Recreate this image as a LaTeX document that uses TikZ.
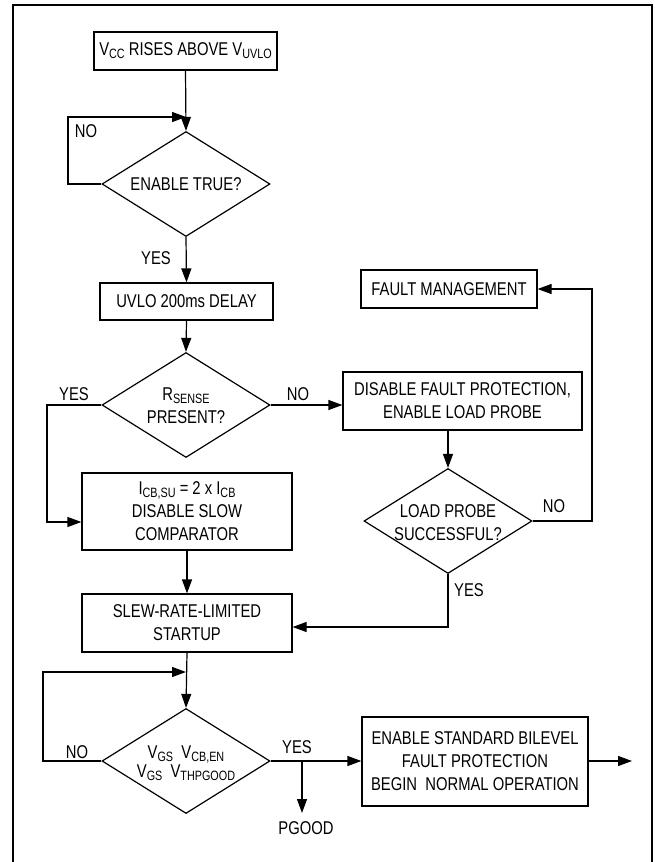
\documentclass[tikz,border=0pt]{standalone}
\usepackage{fontspec}
\setmainfont{Liberation Sans}[FakeStretch=0.8]
\usetikzlibrary{arrows.meta,shapes.geometric}
\newcommand{\subx}[1]{\raisebox{-0.16em}{\fontsize{13.5}{13.5}\selectfont #1}}
\begin{document}
\begin{tikzpicture}[x=1pt,y=-1pt,
  every node/.style={font=\fontsize{18.5}{23}\selectfont},
  box/.style={draw,line width=1.2pt,inner sep=0pt,align=center},
  dia/.style={draw,diamond,line width=1.2pt,inner sep=0pt,minimum width=168pt,minimum height=105pt},
  txt/.style={inner sep=0pt,align=center},
  lbl/.style={inner sep=0pt},
  arr/.style={line width=1.2pt,-{Triangle[length=14pt,width=10pt]}},
  ln/.style={line width=1.2pt}]
\useasboundingbox (0,0) rectangle (654,862);
\draw[line width=2pt] (12.5,862) -- (12.5,4.5) -- (651.5,4.5) -- (651.5,862);

% nodes
\node[box,minimum width=183pt,minimum height=38pt] (b1) at (185.5,51) {V\subx{CC} RISES ABOVE V\subx{UVLO}};
\node[dia] (d1) at (186,184) {};
\node[txt] (t1) at (d1) {ENABLE TRUE?};
\node[box,minimum width=173pt,minimum height=37pt] (b2) at (186.5,301.5) {UVLO 200ms DELAY};
\node[dia] (d2) at (186,405) {};
\node[txt] (t2) at (186,406) {R\subx{SENSE}\\PRESENT?};
\node[box,minimum width=210pt,minimum height=77pt] (b3) at (187,511.5) {I\subx{CB,SU} = 2 x I\subx{CB}\\DISABLE SLOW\\COMPARATOR};
\node[box,minimum width=176pt,minimum height=38pt] (fm) at (449,289) {FAULT MANAGEMENT};
\node[box,minimum width=239pt,minimum height=58pt] (b4) at (462.5,401) {DISABLE FAULT PROTECTION,\\ENABLE LOAD PROBE};
\node[dia] (d4) at (448,521) {};
\node[txt] (t4) at (448,523) {LOAD PROBE\\SUCCESSFUL?};
\node[box,minimum width=210pt,minimum height=58pt] (b5) at (187,623) {SLEW-RATE-LIMITED\\STARTUP};
\node[dia] (d3) at (186,761) {};
\node[txt,font=\fontsize{18.5}{19.5}\selectfont] (t3) at (186,763) {V\subx{GS}\ \ V\subx{CB,EN}\\V\subx{GS}\ \ V\subx{THPGOOD}};
\node[box,minimum width=226pt,minimum height=89pt] (b6) at (475,761.5) {ENABLE STANDARD BILEVEL\\FAULT PROTECTION\\BEGIN\ \ NORMAL OPERATION};

% coordinates
\coordinate (j1) at (186,117);
\coordinate (j3) at (186,672);
\coordinate (pg) at (302,813);
\coordinate (out) at (632,761);

% labels
\node[lbl] (l1) at (86,131) {NO};
\node[lbl] (l2) at (156,258) {YES};
\node[lbl] (l3) at (74,394) {YES};
\node[lbl] (l4) at (298,394) {NO};
\node[lbl] (l5) at (554,506) {NO};
\node[lbl] (l6) at (469,590) {YES};
\node[lbl] (l7) at (77,752) {NO};
\node[lbl] (l8) at (297,747) {YES};
\node[lbl] (l9) at (306,828) {PGOOD};

% connectors
\draw[arr] (b1.south) -- (d1.north);
\draw[arr] (d1.west) -- (68,184) -- (68,117) -- (j1);
\draw[arr] (d1.south) -- (b2.north);
\draw[arr] (b2.south) -- (d2.north);
\draw[arr] (d2.west) -- (47,405) -- (47,522) -- (b3.west |- 0,522);
\draw[arr] (d2.east) -- (d2.east -| b4.west);
\draw[arr] (d4.north |- b4.south) -- (d4.north);
\draw[arr] (d4.east) -- (592,521) -- (592,289) -- (fm.east);
\draw[arr] (d4.south) -- (448,627) -- (b5.east |- 0,627);
\draw[arr] (b3.south) -- (b5.north);
\draw[arr] (b5.south) -- (d3.north);
\draw[arr] (d3.west) -- (43,761) -- (43,672) -- (j3);
\draw[arr] (d3.east) -- (d3.east -| b6.west);
\draw[arr] (302,761) -- (pg);
\draw[arr] (b6.east |- out) -- (out);
\end{tikzpicture}
\end{document}
